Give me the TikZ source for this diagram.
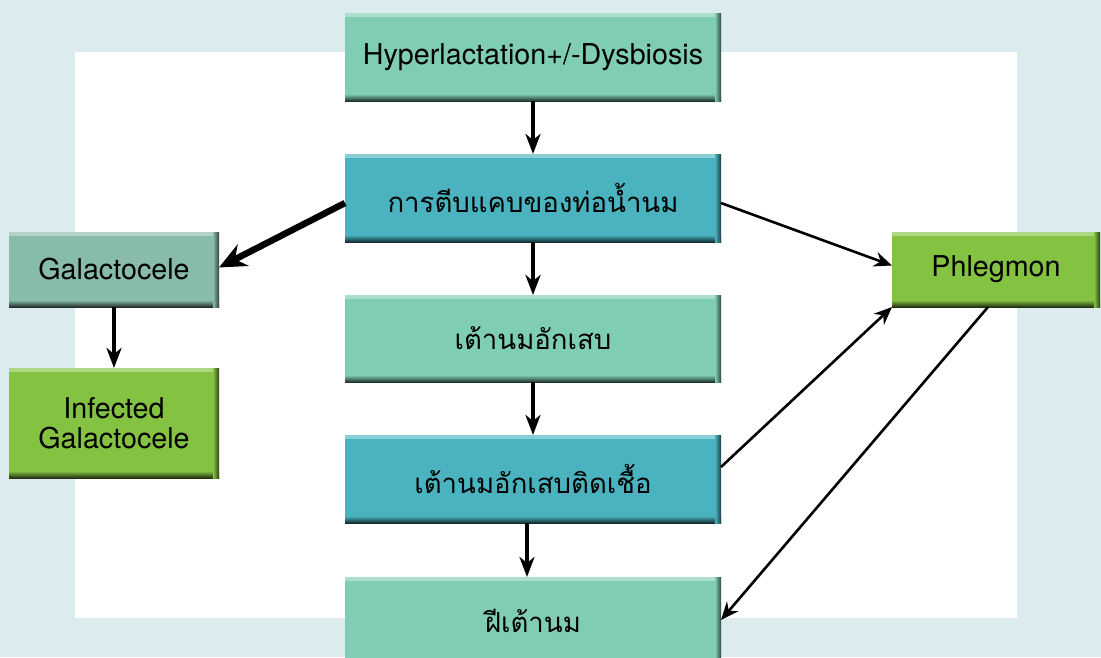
\documentclass[tikz,border=0pt]{standalone}
\usepackage{fontspec}
\setmainfont{TeX Gyre Heros}
\newfontfamily\thaifont[Script=Thai,Scale=0.96]{Loma}
\usetikzlibrary{arrows.meta}
\definecolor{paleblue}{HTML}{DCEBEE}
\definecolor{mint}{HTML}{80CDB5}
\definecolor{teal}{HTML}{4AB3BF}
\definecolor{sage}{HTML}{88BCAA}
\definecolor{leaf}{HTML}{84C242}

\begin{document}
\begin{tikzpicture}[x=1pt,y=-1pt,
	box/.style={fill=#1,inner sep=0pt,outer sep=0pt,align=center,font=\fontsize{28.7}{33}\selectfont,
		path picture={
			\fill[white,opacity=0.35] (path picture bounding box.north west) rectangle ([yshift=-4pt]path picture bounding box.north east);
			\shade[top color=#1,bottom color=#1!25!black] ([yshift=7pt]path picture bounding box.south west) rectangle (path picture bounding box.south east);
			\shade[left color=#1,right color=#1!35!black] ([xshift=-6pt]path picture bounding box.north east) rectangle (path picture bounding box.south east);
		}},
	mid/.style={box=#1,minimum width=376pt,minimum height=88pt},
	side/.style={box=#1,minimum width=210pt,minimum height=75pt},
	flow/.style={-{Stealth[length=20pt,width=15pt,inset=6pt]},line width=3.6pt},
	link/.style={-{Stealth[length=18pt,width=15pt,inset=6pt]},line width=2.6pt}]
	\useasboundingbox (0,0) rectangle (1101,657);
	\clip (0,0) rectangle (1101,657);
	\fill[paleblue] (0,0) rectangle (1101,657);
	\fill[white] (75,52) rectangle (1017,618);
	% centre column
	\node[mid=mint] (hyper) at (533,57) {Hyperlactation+/-Dysbiosis};
	\node[mid=teal] (stenosis) at (533,198) {\thaifont การตีบแคบของท่อน้ำนม};
	\node[mid=mint,minimum height=87pt] (mastitis) at (533,338.5) {\thaifont เต้านมอักเสบ};
	\node[mid=teal] (infmastitis) at (533,479) {\thaifont เต้านมอักเสบติดเชื้อ};
	\node[mid=mint] (abscess) at (533,621) {\thaifont ฝีเต้านม};
	% side boxes
	\node[side=sage] (galacto) at (114,269.5) {Galactocele};
	\node[side=leaf,minimum height=110pt] (infgalacto) at (114,423) {Infected\\[-3pt]Galactocele};
	\node[side=leaf,minimum width=208pt] (phlegmon) at (996,269.5) {Phlegmon};
	\draw[flow] (hyper) -- (stenosis);
	\draw[flow] (stenosis) -- (mastitis);
	\draw[flow] (mastitis) -- (infmastitis);
	\draw[flow] ([xshift=-6pt]infmastitis.south) -- ([xshift=-6pt]abscess.north);
	\draw[flow] (galacto) -- (infgalacto);
	\draw[-{Stealth[length=27pt,width=24pt,inset=9pt]},line width=6.5pt] ([yshift=-5pt]stenosis.west) -- ([yshift=2pt]galacto.east);
	\draw[link] ([yshift=-5pt]stenosis.east) -- ([yshift=4pt]phlegmon.west);
	\draw[link] ([yshift=12pt]infmastitis.east) -- (phlegmon.south west);
	\draw[link] ([xshift=-8pt]phlegmon.south) -- ([yshift=1pt]abscess.east);
\end{tikzpicture}
\end{document}
